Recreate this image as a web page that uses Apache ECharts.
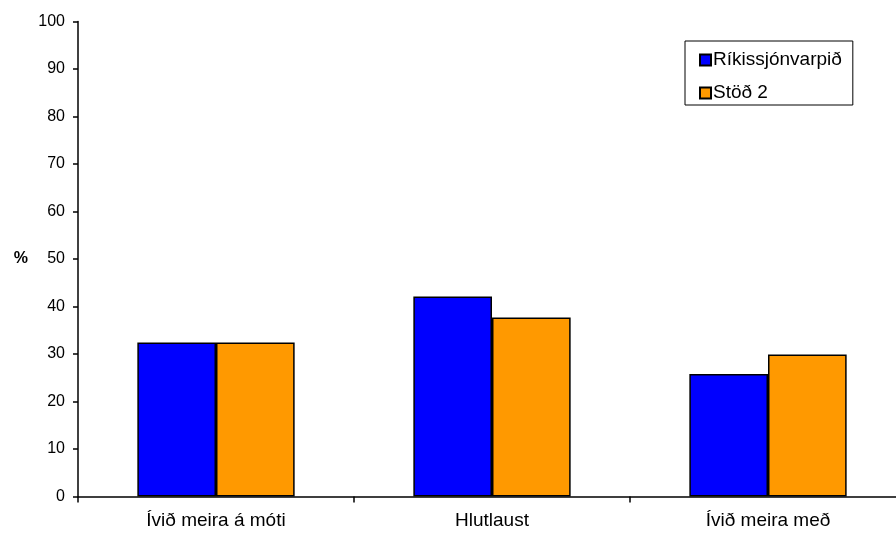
<!DOCTYPE html>
<html><head><meta charset="utf-8">
<script src="https://cdn.jsdelivr.net/npm/echarts@6/dist/echarts.min.js"></script>
<style>html,body{margin:0;padding:0;background:#fff;overflow:hidden;width:896px;height:533px}#c{width:912px;height:533px}</style>
</head><body><div id="c"></div>
<script>
var categories = ['Ívið meira á móti', 'Hlutlaust', 'Ívið meira með'];
var seriesNames = ['Ríkissjónvarpið', 'Stöð 2'];
var rikis = [32.4, 42.1, 25.8];
var stod2 = [32.4, 37.7, 29.9];
var colors = ['#0000FF', '#FF9900'];

var chart = echarts.init(document.getElementById('c'));
var font = 'Liberation Sans, Arial, sans-serif';
chart.setOption({
  animation: false,
  textStyle: {fontFamily: font},
  grid: {left: 78, top: 21.5, width: 828, height: 475},
  legend: {
    orient: 'vertical', left: 685, top: 41,
    padding: [9, 11, 2, 14], itemGap: 13,
    borderColor: '#000', borderWidth: 1,
    itemWidth: 11, itemHeight: 11, icon: 'rect',
    textStyle: {fontFamily: font, fontSize: 19, lineHeight: 20, color: '#000', padding: [0, 0, 0, -3]},
    data: seriesNames
  },
  xAxis: {
    type: 'category', data: categories,
    axisLine: {lineStyle: {color: '#000', width: 1.5}},
    axisTick: {show: true, length: 6, lineStyle: {color: '#000', width: 1.5}},
    axisLabel: {color: '#000', fontSize: 19, margin: 15, fontFamily: font}
  },
  yAxis: {
    type: 'value', min: 0, max: 100, interval: 10,
    name: '%', nameLocation: 'middle', nameGap: 50, nameRotate: 0,
    nameTextStyle: {fontWeight: 'bold', fontSize: 16, color: '#000', fontFamily: font, padding: [8, 0, 0, 0]},
    axisLine: {show: true, lineStyle: {color: '#000', width: 1.5}},
    axisTick: {show: true, length: 5, lineStyle: {color: '#000', width: 1.5}},
    axisLabel: {color: '#000', fontSize: 16, margin: 13, fontFamily: font},
    splitLine: {show: false}
  },
  series: [
    {name: seriesNames[0], type: 'bar', data: rikis, barGap: '0%', barCategoryGap: '43%',
     itemStyle: {color: colors[0], borderColor: '#000', borderWidth: 1.5}},
    {name: seriesNames[1], type: 'bar', data: stod2,
     itemStyle: {color: colors[1], borderColor: '#000', borderWidth: 1.5}}
  ]
});
</script></body></html>
